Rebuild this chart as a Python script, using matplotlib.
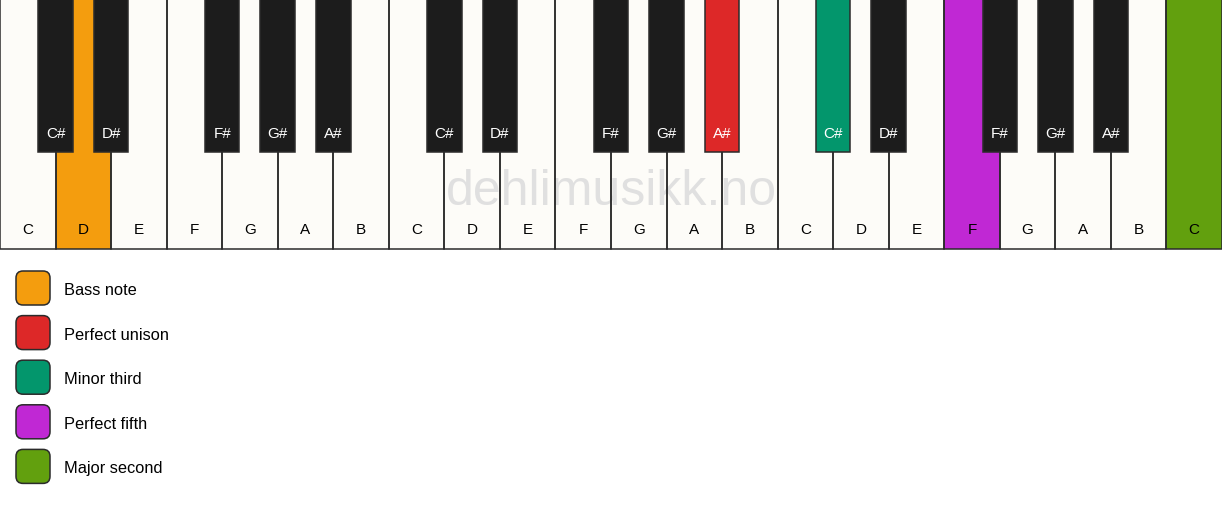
import matplotlib
matplotlib.use("Agg")
import matplotlib.pyplot as plt
from matplotlib.patches import Rectangle, FancyBboxPatch

plt.rcParams['font.family'] = ['Liberation Sans', 'DejaVu Sans']

# tangenter
white_notes = ['C', 'D', 'E', 'F', 'G', 'A', 'B'] * 3 + ['C']
black_notes = ['C#', 'D#', None, 'F#', 'G#', 'A#', None] * 3
# markerte tangenter: indeks -> farge
highlight_white = {1: '#f49d0e', 17: '#c028d4', 21: '#62a00e'}
highlight_black = {12: '#dd2828', 14: '#03966c'}

legend_labels = ['Bass note', 'Perfect unison', 'Minor third', 'Perfect fifth', 'Major second']
legend_colors = ['#f49d0e', '#dd2828', '#03966c', '#c028d4', '#62a00e']

W, H = 1222, 506
key_w = W / len(white_notes)
kb_h = 250
bk_h = 153
bk_w = 34.5
edge = '#2b2b2b'

fig = plt.figure(figsize=(W / 100, H / 100), dpi=100)
ax = fig.add_axes([0, 0, 1, 1])
ax.set_xlim(0, W)
ax.set_ylim(H, 0)
ax.axis('off')

# hvite tangenter (fyll)
for i, note in enumerate(white_notes):
    col = highlight_white.get(i, '#fdfcf8')
    ax.add_patch(Rectangle((i * key_w, 0), key_w, kb_h, facecolor=col, edgecolor='none', zorder=1))
    ax.text((i + 0.5) * key_w, 230.5, note, ha='center', va='center', fontsize=11, color='black', zorder=5)

# vannmerke
ax.text(611, 192, 'dehlimusikk.no', ha='center', va='center', fontsize=36, color='#e0e0e0', zorder=2)

# kanter hvite tangenter
for i in range(len(white_notes)):
    ax.add_patch(Rectangle((i * key_w, 0), key_w, kb_h, facecolor='none', edgecolor=edge, lw=1.1, zorder=3))

# svarte tangenter
for i, note in enumerate(black_notes):
    if note is None:
        continue
    col = highlight_black.get(i, '#1c1c1c')
    x = (i + 1) * key_w - bk_w / 2
    ax.add_patch(Rectangle((x, 0), bk_w, bk_h, facecolor=col, edgecolor=edge, lw=1.1, zorder=4))
    ax.text((i + 1) * key_w, 133.5, note, ha='center', va='center', fontsize=11, color='white', zorder=5)

# forklaring
for j, (lab, col) in enumerate(zip(legend_labels, legend_colors)):
    y0 = 272 + j * 44.6
    ax.add_patch(FancyBboxPatch((16, y0), 34, 34, boxstyle='round,pad=0,rounding_size=7',
                                facecolor=col, edgecolor=edge, lw=1.1, zorder=4))
    ax.text(64, y0 + 18.5, lab, ha='left', va='center', fontsize=11.8, color='black')

fig.savefig('out.png', dpi=100, facecolor='white')
